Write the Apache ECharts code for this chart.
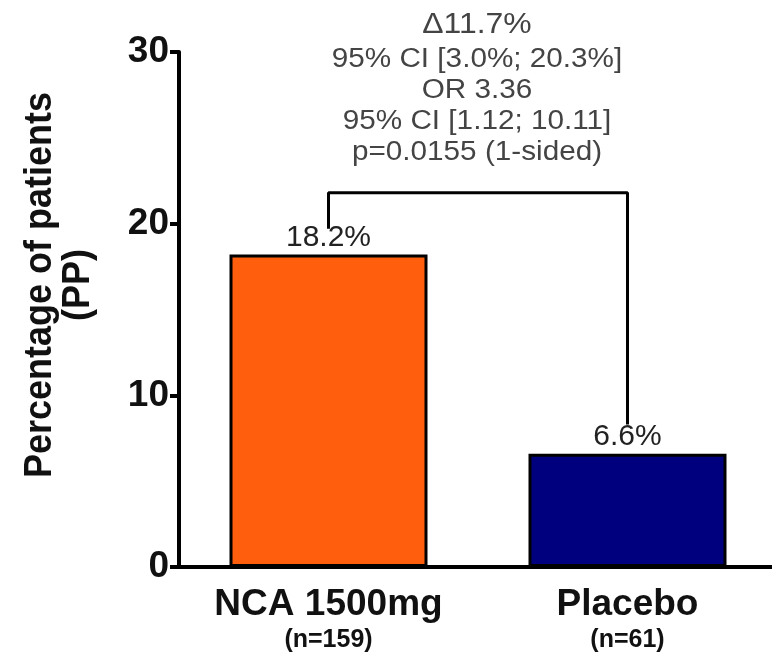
<!DOCTYPE html>
<html>
<head>
<meta charset="utf-8">
<script src="https://cdn.jsdelivr.net/npm/echarts@6/dist/echarts.min.js"></script>
<style>html,body{margin:0;padding:0;background:#fff;overflow:hidden;width:772px;height:655px}#c{width:800px;height:655px}</style>
</head>
<body>
<div id="c"></div>
<script>
const categories = ['NCA 1500mg', 'Placebo'];
const sampleSizes = ['(n=159)', '(n=61)'];
const percentages = [18.2, 6.6];
const barColors = ['#FF5F0D', '#00007F'];
const yTicks = [0, 10, 20, 30];
const bracketValues = [19.7, 21.8, 21.8, 8.3];
const bracketCats = ['NCA 1500mg', 'NCA 1500mg', 'Placebo', 'Placebo'];
const annotationLines = ['\u039411.7%', '95% CI [3.0%; 20.3%]', 'OR 3.36', '95% CI [1.12; 10.11]', 'p=0.0155 (1-sided)'];
const yAxisTitle = 'Percentage of patients\n(PP)';

const chart = echarts.init(document.getElementById('c'));
const annY = [25, 60, 91, 122, 153];
const graphics = annotationLines.map((t, i) => ({
  type: 'text', x: 477, y: annY[i], scaleX: 1.1,
  style: { text: t, x: 0, y: 0, align: 'center', verticalAlign: 'middle',
    fontFamily: 'Liberation Sans, Arial', fontSize: i === 0 ? 29 : 27, fill: '#444' }
}));
graphics.push({
  type: 'text', x: 59, y: 285, rotation: Math.PI / 2, scaleY: 1.1,
  style: { text: yAxisTitle, x: 0, y: 0, align: 'center', verticalAlign: 'middle',
    fontFamily: 'Liberation Sans, Arial', fontWeight: 'bold', fontSize: 36, lineHeight: 34, fill: '#111' }
});

chart.setOption({
  backgroundColor: '#fff',
  animation: false,
  grid: { left: 179, top: 52, bottom: 88, width: 598 },
  xAxis: {
    type: 'category', data: categories,
    axisLine: { lineStyle: { color: '#000', width: 4 } },
    axisTick: { show: false },
    axisLabel: {
      margin: 18, interval: 0,
      formatter: (v, i) => '{a|' + v + '}\n{b|' + sampleSizes[i] + '}',
      rich: {
        a: { fontFamily: 'Liberation Sans, Arial', fontWeight: 'bold', fontSize: 37, color: '#111', lineHeight: 40 },
        b: { fontFamily: 'Liberation Sans, Arial', fontWeight: 'bold', fontSize: 25, color: '#111', lineHeight: 30 }
      }
    }
  },
  yAxis: {
    type: 'value', min: yTicks[0], max: yTicks[yTicks.length - 1], interval: 10,
    axisLine: { show: true, lineStyle: { color: '#000', width: 4 } },
    axisTick: { show: true, length: 9, lineStyle: { color: '#000', width: 4 } },
    axisLabel: { margin: 10, fontFamily: 'Liberation Sans, Arial', fontWeight: 'bold', fontSize: 37, color: '#111' },
    splitLine: { show: false }
  },
  graphic: graphics,
  series: [
    {
      type: 'bar', barWidth: 198,
      data: percentages.map((v, i) => ({ value: v, itemStyle: { color: barColors[i] } })),
      itemStyle: { borderColor: '#000', borderWidth: 3 },
      label: { show: true, position: 'top', distance: 2, formatter: '{c}%',
        fontFamily: 'Liberation Sans, Arial', fontSize: 30, color: '#222' }
    },
    {
      type: 'line', symbol: 'none', silent: true,
      data: bracketCats.map((c, i) => [c, bracketValues[i]]),
      lineStyle: { color: '#000', width: 3 }, z: 5
    }
  ]
});
</script>
</body>
</html>
